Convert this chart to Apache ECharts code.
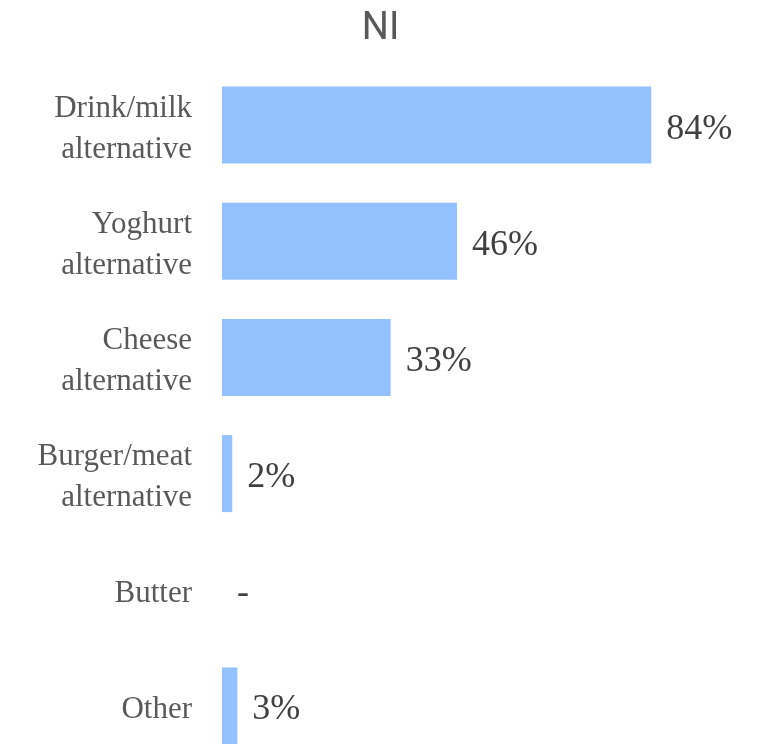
<!DOCTYPE html>
<html>
<head>
<meta charset="utf-8">
<script src="https://cdn.jsdelivr.net/npm/echarts@6/dist/echarts.min.js"></script>
<style>
  html, body { margin: 0; padding: 0; background: #ffffff; }
  #chart { width: 761px; height: 744px; }
</style>
</head>
<body>
<div id="chart"></div>
<script>
// Product categories (top to bottom) and share of respondents (%)
const categories = [
  'Drink/milk\nalternative',
  'Yoghurt\nalternative',
  'Cheese\nalternative',
  'Burger/meat\nalternative',
  'Butter',
  'Other'
];
const values = [84, 46, 33, 2, 0, 3];
const chartTitle = 'NI';

const chart = echarts.init(document.getElementById('chart'), null, { renderer: 'canvas' });

chart.setOption({
  animation: false,
  backgroundColor: '#ffffff',
  title: {
    text: chartTitle,
    left: 'center',
    top: 5,
    textStyle: {
      fontFamily: '"Liberation Sans Narrow", "Roboto", sans-serif',
      fontSize: 38,
      fontWeight: 'normal',
      color: '#595959'
    }
  },
  grid: {
    left: 222,
    top: 67,
    width: 511,
    height: 697,
    outerBoundsMode: 'none'
  },
  xAxis: {
    type: 'value',
    min: 0,
    max: 100,
    show: false
  },
  yAxis: {
    type: 'category',
    data: categories,
    inverse: true,
    axisLine: { show: false },
    axisTick: { show: false },
    splitLine: { show: false },
    axisLabel: {
      margin: 30,
      align: 'right',
      fontFamily: '"Liberation Serif", "DejaVu Serif", serif',
      fontSize: 31,
      lineHeight: 41,
      color: '#595959',
      // a thin spacer line above each label nudges the text block down slightly
      formatter: v => '{s|}\n' + v,
      rich: {
        s: { lineHeight: 8, fontSize: 1 }
      }
    }
  },
  series: [{
    type: 'bar',
    data: values,
    barWidth: 77,
    itemStyle: { color: '#93C0FF' },
    label: {
      show: true,
      position: 'right',
      distance: 15,
      offset: [0, 4],
      fontFamily: '"Liberation Serif", "DejaVu Serif", serif',
      fontSize: 36,
      color: '#404040',
      formatter: p => (p.value === 0 ? '-' : p.value + '%')
    }
  }]
});
</script>
</body>
</html>
